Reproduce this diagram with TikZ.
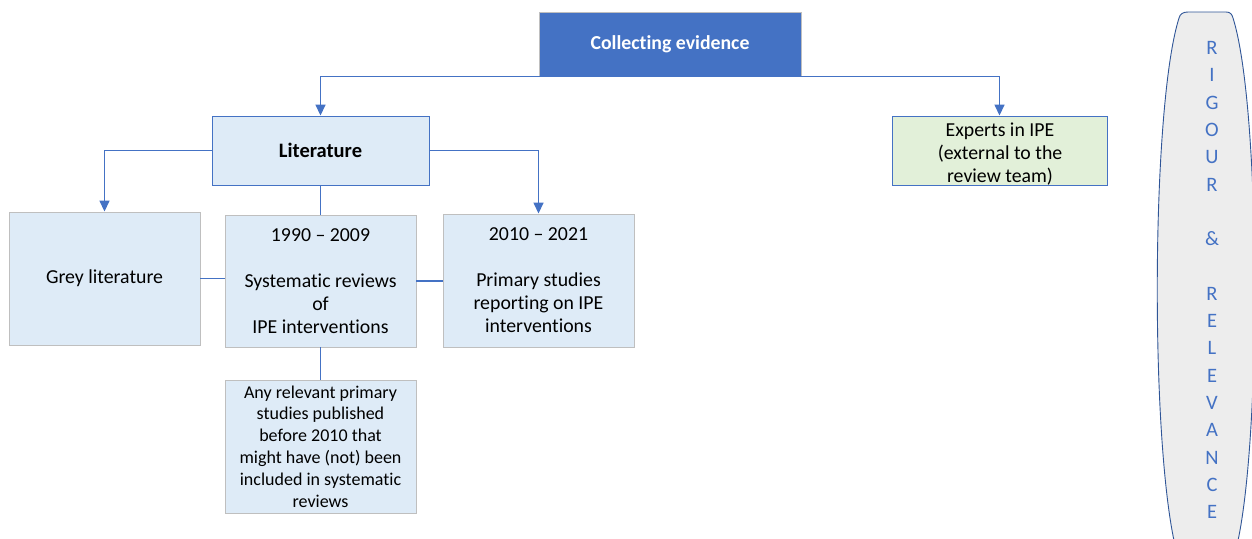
\documentclass[tikz,border=0pt]{standalone}
\usepackage{fontspec}
\setmainfont[Ligatures=NoCommon]{Carlito}
\usetikzlibrary{arrows.meta}
\definecolor{mainblue}{HTML}{4472C4}
\definecolor{lightblue}{HTML}{DEEBF7}
\definecolor{lightgreen}{HTML}{E2F0D9}
\definecolor{boxgray}{HTML}{BFBFBF}
\definecolor{ovalfill}{HTML}{EDEDED}
\definecolor{ovalline}{HTML}{2F5597}
\tikzset{
  boxbase/.style={rectangle, inner sep=2pt, align=center, line width=0.9pt,
    font={\fontsize{19.8}{23}\selectfont}},
  graybox/.style={boxbase, fill=lightblue, draw=boxgray},
  bluebox/.style={boxbase, fill=lightblue, draw=mainblue},
  greenbox/.style={boxbase, fill=lightgreen, draw=mainblue},
  topbox/.style={boxbase, fill=mainblue, draw=boxgray, text=white},
  conn/.style={draw=mainblue, line width=1.5pt},
  arr/.style={conn, -{Triangle[width=10pt,length=11pt]}},
}
\begin{document}
\begin{tikzpicture}[x=1pt,y=-1pt]
\path[use as bounding box] (0,0) rectangle (1252,538);
\clip (0,0) rectangle (1252,538);

% boxes
\node[topbox, minimum width=262pt, minimum height=64pt] (ce) at (670,44) {\textbf{Collecting evidence}};
\node[bluebox, minimum width=217pt, minimum height=69pt] (lit) at (320.5,150.5) {\textbf{\fontsize{20.5}{23}\selectfont Literature}};
\node[greenbox, minimum width=215pt, minimum height=69pt] (exp) at (999.5,150.5) {};
\node[align=center, inner sep=0pt, font={\fontsize{19.8}{23}\selectfont}] (expt) at (1000,154) {Experts in IPE\\(external to the\\review team)};
\node[graybox, minimum width=191pt, minimum height=133pt] (grey) at (104.5,278.5) {Grey literature};
\node[graybox, minimum width=191pt, minimum height=132pt] (early) at (320.5,281) {1990 -- 2009\\[23pt]Systematic reviews\\of\\IPE interventions};
\node[graybox, minimum width=191pt, minimum height=133pt] (late) at (538.5,280.5) {2010 -- 2021\\[23pt]Primary studies\\reporting on IPE\\interventions};
\node[graybox, minimum width=191pt, minimum height=133pt, font={\fontsize{18}{21.8}\selectfont}] (any) at (320.5,446.5) {Any relevant primary\\studies published\\before 2010 that\\might have (not) been\\included in systematic\\reviews};

% connectors
\draw[arr] (ce.south) -| (lit.north);
\draw[arr] (ce.south) -| (exp.north);
\draw[arr] (lit.west) -| (grey.north);
\draw[arr] (lit.east) -| (late.north);
\draw[conn] (lit.south) -- (early.north);
\draw[conn] (grey.east) -- (grey.east -| early.west);
\draw[conn] (early.east) -- (early.east -| late.west);
\draw[conn] (early.south) -- (any.north);

% side oval
\draw[fill=ovalfill, draw=ovalline, line width=0.9pt]
  (1188,12) -- (1226,12) .. controls (1230,12) and (1232,14) .. (1233,18)
  .. controls (1262,110) and (1262,470) .. (1233,560)
  -- (1179,560)
  .. controls (1150,470) and (1150,110) .. (1179,18)
  .. controls (1180,14) and (1183,12) .. (1188,12) -- cycle;
\node[text=mainblue, align=center, inner sep=0pt, font={\fontsize{20.5}{27.3}\selectfont}] (rr) at (1212,280)
  {R\\I\\G\\O\\U\\R\\\mbox{}\\\&\\\mbox{}\\R\\E\\L\\E\\V\\A\\N\\C\\E};
\end{tikzpicture}
\end{document}
